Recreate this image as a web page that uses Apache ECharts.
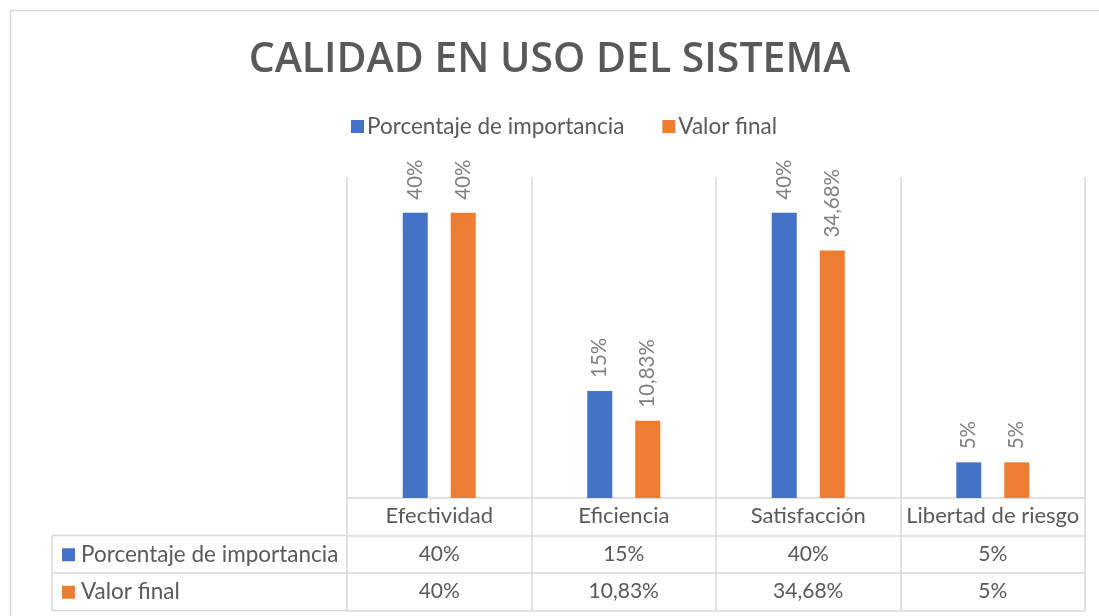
<!DOCTYPE html>
<html>
<head>
<meta charset="utf-8">
<title>Calidad en uso del sistema</title>
<script src="https://cdn.jsdelivr.net/npm/echarts@6/dist/echarts.min.js"></script>
<style>
    html, body { margin: 0; padding: 0; background: #fff; }
    #main { width: 1099px; height: 616px; }
</style>
</head>
<body>
<div id="main"></div>
<script>
    // datos del gráfico (en %)
    var categorias = ['Efectividad', 'Eficiencia', 'Satisfacción', 'Libertad de riesgo'];
    var nombreSerie1 = 'Porcentaje de importancia';
    var nombreSerie2 = 'Valor final';
    var importancia = [40, 15, 40, 5];
    var valorFinal = [40, 10.83, 34.68, 5];

    var azul = '#4472c4';
    var naranja = '#ed7d31';
    var gris = '#595959';
    var linea = '#d9d9d9';
    var fuente = 'Lato';

    // 10.83 -> "10,83%"
    function fmt(v) {
        return String(v).replace('.', ',') + '%';
    }

    var gridLeft = 347, gridRight = 14, gridTop = 177, gridBottom = 118;
    var filaAlto = 37.5;
    var baseY = 616 - gridBottom;

    var myChart = echarts.init(document.getElementById('main'));

    var etiqueta = {
        show: true,
        position: 'top',
        rotate: 90,
        align: 'left',
        verticalAlign: 'middle',
        distance: 13,
        color: '#7f7f7f',
        fontFamily: fuente,
        fontSize: 20.5,
        formatter: function (p) { return fmt(p.value); }
    };

    // filas de la tabla de datos, dibujadas como ejes extra
    function ejeFila(offset, valores) {
        return {
            type: 'category',
            position: 'bottom',
            offset: offset,
            data: categorias,
            axisLine: { show: true, lineStyle: { color: linea, width: 1.5 } },
            axisTick: { show: false },
            splitLine: { show: false },
            axisLabel: {
                show: !!valores,
                interval: 0,
                margin: 8,
                color: gris,
                fontFamily: fuente,
                fontSize: 21,
                formatter: function (v, i) { return valores ? fmt(valores[i]) : ''; }
            }
        };
    }

    var option = {
        backgroundColor: '#fff',
        animation: false,
        title: {
            text: 'CALIDAD EN USO DEL SISTEMA',
            left: 'center',
            top: 35,
            textStyle: {
                color: gris,
                fontFamily: 'Open Sans',
                fontWeight: 600,
                fontSize: 41
            }
        },
        legend: {
            left: 351,
            top: 115,
            padding: 0,
            icon: 'rect',
            itemWidth: 13,
            itemHeight: 13,
            itemGap: 38,
            textStyle: {
                color: gris,
                fontFamily: fuente,
                fontSize: 22.5,
                padding: [0, 0, 0, -2]
            },
            data: [nombreSerie1, nombreSerie2]
        },
        grid: {
            left: gridLeft,
            right: gridRight,
            top: gridTop,
            bottom: gridBottom
        },
        xAxis: [{
            type: 'category',
            data: categorias,
            axisLine: { show: true, lineStyle: { color: linea, width: 1.5 } },
            axisTick: { show: true, interval: 0, length: filaAlto * 3, lineStyle: { color: linea, width: 1.5 } },
            splitLine: { show: true, interval: 0, lineStyle: { color: linea, width: 1.5 } },
            axisLabel: {
                interval: 0,
                margin: 7,
                color: gris,
                fontFamily: fuente,
                fontSize: 22
            }
        },
            ejeFila(filaAlto, importancia),
            ejeFila(filaAlto * 2, valorFinal),
            ejeFila(filaAlto * 3, null)
        ],
        yAxis: {
            type: 'value',
            min: 0,
            max: 45,
            show: false,
            splitLine: { show: false }
        },
        series: [{
            name: nombreSerie1,
            type: 'bar',
            barWidth: 25,
            barGap: '92%',
            itemStyle: { color: azul },
            label: etiqueta,
            data: importancia
        }, {
            name: nombreSerie2,
            type: 'bar',
            barWidth: 25,
            barGap: '92%',
            itemStyle: { color: naranja },
            label: etiqueta,
            data: valorFinal
        }],
        graphic: [
            // borde exterior del gráfico
            { type: 'rect', silent: true, shape: { x: 10.5, y: 10.5, width: 1100, height: 620 },
              style: { fill: null, stroke: linea, lineWidth: 1.5 } },
            // columna izquierda de la tabla
            { type: 'line', silent: true, shape: { x1: 52, y1: baseY + filaAlto, x2: gridLeft, y2: baseY + filaAlto },
              style: { stroke: linea, lineWidth: 1.5 } },
            { type: 'line', silent: true, shape: { x1: 52, y1: baseY + filaAlto * 2, x2: gridLeft, y2: baseY + filaAlto * 2 },
              style: { stroke: linea, lineWidth: 1.5 } },
            { type: 'line', silent: true, shape: { x1: 52, y1: baseY + filaAlto * 3, x2: gridLeft, y2: baseY + filaAlto * 3 },
              style: { stroke: linea, lineWidth: 1.5 } },
            { type: 'line', silent: true, shape: { x1: 52, y1: baseY + filaAlto, x2: 52, y2: baseY + filaAlto * 3 },
              style: { stroke: linea, lineWidth: 1.5 } },
            // claves de la tabla
            { type: 'rect', silent: true, shape: { x: 62, y: baseY + filaAlto * 1.5 - 6, width: 13, height: 13 },
              style: { fill: azul } },
            { type: 'text', silent: true, x: 81, y: baseY + filaAlto * 1.5,
              style: { text: nombreSerie1, fill: gris, font: '22.5px ' + fuente, verticalAlign: 'middle' } },
            { type: 'rect', silent: true, shape: { x: 62, y: baseY + filaAlto * 2.5 - 6, width: 13, height: 13 },
              style: { fill: naranja } },
            { type: 'text', silent: true, x: 81, y: baseY + filaAlto * 2.5,
              style: { text: nombreSerie2, fill: gris, font: '22.5px ' + fuente, verticalAlign: 'middle' } }
        ]
    };

    myChart.setOption(option);
    window.addEventListener('resize', myChart.resize);
</script>
</body>
</html>
